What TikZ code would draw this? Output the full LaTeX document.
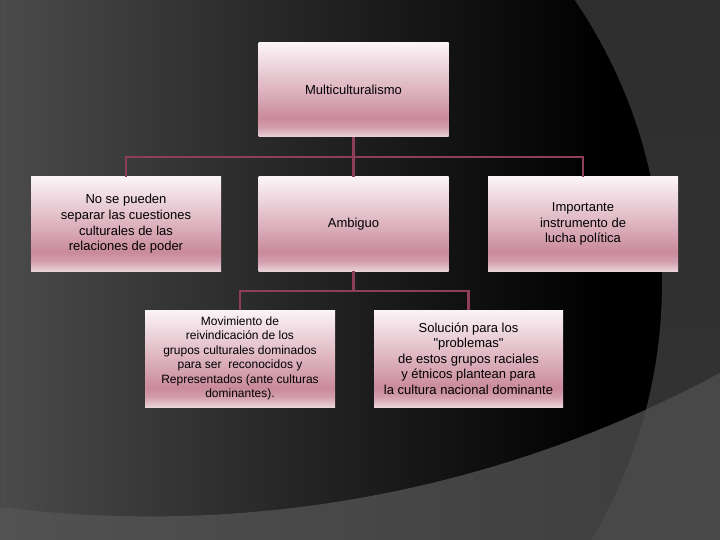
\documentclass[tikz,border=0pt]{standalone}
\usepackage{fontspec}
\setmainfont{Liberation Sans}
\newfontfamily\qfont{Liberation Sans}
\definecolor{pkTop}{HTML}{FBF4F6}
\definecolor{pkMid}{HTML}{DDB3BF}
\definecolor{pkDark}{HTML}{C98A9C}
\definecolor{pkDarkB}{HTML}{D39FAE}
\definecolor{pkBot}{HTML}{EBD3DA}
\definecolor{connc}{HTML}{8E3E59}
\definecolor{bgL}{HTML}{4B4B4B}
\definecolor{bgM}{HTML}{262626}
\definecolor{lowL}{HTML}{525252}
\definecolor{lowR}{HTML}{3C3C3C}
\definecolor{cornerc}{HTML}{484848}
\definecolor{rightT}{HTML}{2C2C2C}
\definecolor{rightB}{HTML}{363636}
\pgfdeclareverticalshading{nodeshade}{100bp}{color(0bp)=(pkBot); color(25bp)=(pkBot); color(30bp)=(pkDarkB); color(35bp)=(pkDark); color(50bp)=(pkMid); color(75bp)=(pkTop); color(100bp)=(pkTop)}
\pgfdeclarehorizontalshading{bgsh}{100bp}{color(0bp)=(bgL); color(25bp)=(bgL); color(45bp)=(bgM); color(67bp)=(black); color(100bp)=(black)}
\tikzset{
  box/.style={rectangle, shading=nodeshade, minimum width=190pt, minimum height=94pt, align=center, inner sep=2pt, text=black, font=\fontsize{13}{15.6}\selectfont},
  conn/.style={draw=connc, line width=2.6pt}
}
\begin{document}
\begin{tikzpicture}[x=1pt, y=-1pt]
\useasboundingbox (0,0) rectangle (720,540);
% background
\shade[shading=bgsh] (0,0) rectangle (720,540);
\shade[top color=rightT, bottom color=rightB, even odd rule] (0,0) rectangle (720,540) (160,283) circle (502pt);
\begin{scope}
  \clip (0,540) -- plot[domain=0:720, samples=60, smooth] ({\x},{-687+1203.4*sqrt(1-((\x-150.3)/1203.4)^2)}) -- (720,540) -- cycle;
  \shade[left color=lowL, right color=lowR] (0,0) rectangle (720,540);
  \fill[cornerc, even odd rule] (0,0) rectangle (720,540) (160,283) circle (502pt);
\end{scope}
% nodes
\node[box] (top) at (353.5,90) {Multiculturalismo};
\node[box] (l2L) at (126,224) {No se pueden\\separar las cuestiones\\culturales de las\\relaciones de poder};
\node[box] (l2M) at (353.5,224) {Ambiguo};
\node[box] (l2R) at (583,224) {Importante\\instrumento de\\lucha política};
\node[box, minimum height=97pt, font=\fontsize{12}{14.5}\selectfont] (l3L) at (240,358.5) {Movimiento de\\reivindicación de los\\grupos culturales dominados\\para ser\ \ reconocidos y\\Representados (ante culturas\\dominantes).};
\node[box, minimum width=189pt, minimum height=97pt] (l3R) at (468.5,358.5) {Solución para los\\{\qfont"}problemas{\qfont"}\\de estos grupos raciales\\y étnicos plantean para\\la cultura nacional dominante};
% connectors
\coordinate (b1) at (353.5,157);
\coordinate (b2) at (353.5,291);
\draw[conn] (top.south) -- (b1);
\draw[conn] (b1) -- (l2M.north);
\draw[conn] (l2L.north) |- (b1);
\draw[conn] (l2R.north) |- (b1);
\draw[conn] (l2M.south) -- (b2);
\draw[conn] (l3L.north) |- (b2);
\draw[conn] (l3R.north) |- (b2);
\end{tikzpicture}
\end{document}
